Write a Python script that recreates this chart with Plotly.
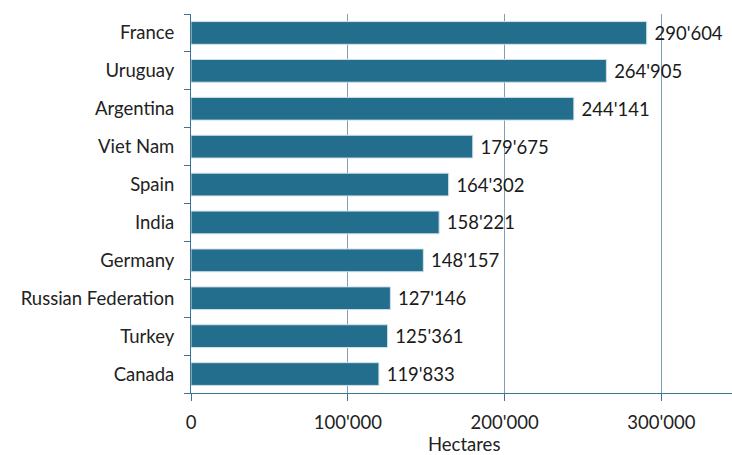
import plotly.graph_objects as go

countries = ["France", "Uruguay", "Argentina", "Viet Nam", "Spain", "India",
             "Germany", "Russian Federation", "Turkey", "Canada"]
hectares = [290604, 264905, 244141, 179675, 164302, 158221,
            148157, 127146, 125361, 119833]

x_tick_vals = [0, 100000, 200000, 300000]
x_title = "Hectares"

BAR = "#236E8C"
AXIS = "#3A7595"
GRID = "#7F9FB6"
FONT = "Lato, 'Open Sans', sans-serif"
SIZE = 18.5

fig = go.Figure(
    go.Bar(
        x=hectares,
        y=countries,
        orientation="h",
        marker=dict(color=BAR, line=dict(color="#CFE0EA", width=1)),
        texttemplate="\u00a0%{x:,}",
        textposition="outside",
        textfont=dict(size=SIZE, color="#1a1a1a", family=FONT),
        cliponaxis=False,
        hoverinfo="skip",
    )
)

fig.update_layout(
    width=732,
    height=455,
    margin=dict(l=191, r=0, t=14, b=62),
    plot_bgcolor="white",
    paper_bgcolor="white",
    separators=".'",
    bargap=0.4,
    showlegend=False,
    font=dict(family=FONT, size=SIZE, color="#222222"),
)

# axis title placed as an annotation so it can sit a little lower
fig.add_annotation(
    text=x_title,
    xref="paper", yref="paper",
    x=0.505, y=-0.135,
    xanchor="center", yanchor="middle",
    showarrow=False,
    font=dict(size=SIZE, color="#222222", family=FONT),
)

fig.update_xaxes(
    range=[0, 345000],
    tickvals=x_tick_vals,
    tickformat=",",
    automargin=False,
    showgrid=True,
    gridcolor=GRID,
    gridwidth=1,
    zeroline=False,
    showline=True,
    linecolor=AXIS,
    linewidth=1,
    ticks="outside",
    ticklen=7,
    tickcolor=AXIS,
    ticklabelstandoff=6,
    tickfont=dict(size=SIZE, color="#222222"),
)

fig.update_yaxes(
    categoryorder="array",
    categoryarray=list(reversed(countries)),
    autorange=True,
    automargin=False,
    showline=True,
    linecolor=AXIS,
    linewidth=1,
    ticks="outside",
    tickson="boundaries",
    ticklen=6,
    tickcolor=AXIS,
    ticklabelstandoff=12,
    showgrid=False,
    tickfont=dict(size=SIZE, color="#222222"),
)

fig.write_html("out.html")
